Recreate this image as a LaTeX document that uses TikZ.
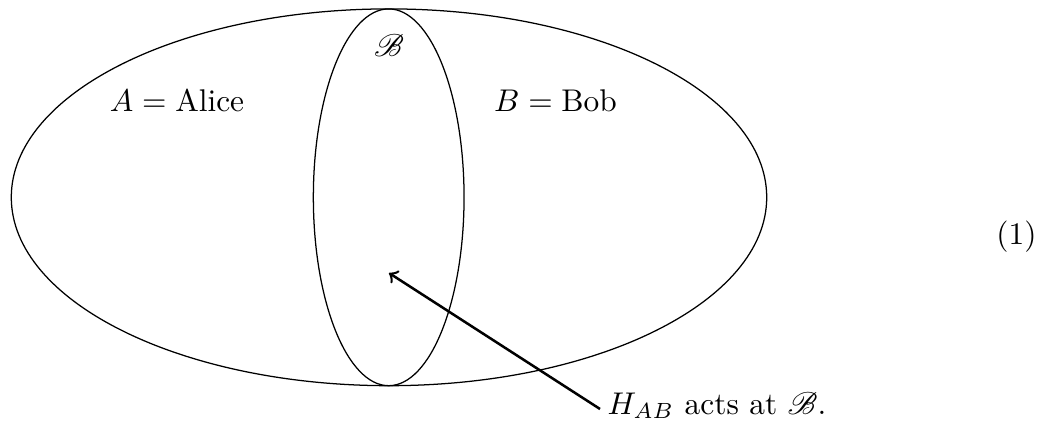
\documentclass[tikz,border=0pt]{standalone}
\usepackage{amsmath}
\usepackage{mathrsfs}
\begin{document}
\begin{tikzpicture}[x=0.3185pt,y=-0.3185pt,
  lbl/.style={inner sep=0pt,anchor=base},
  arr/.style={->,line width=0.8pt}]
\useasboundingbox (0,0) rectangle (1043,430);
\draw[line width=0.4pt] (389,197.3) ellipse [x radius=120.3pt, y radius=60pt];
\draw[line width=0.4pt] (388.7,197.3) ellipse [x radius=24pt, y radius=60pt];
\node[lbl] (alice) at (177,112) {$A=\text{Alice}$};
\node[lbl] (bob) at (555.5,112) {$B=\text{Bob}$};
\node[lbl] (scrB) at (389,57) {$\mathscr{B}$};
\node[lbl,anchor=base west] (hab) at (607,414) {$H_{AB}$ acts at $\mathscr{B}$.};
\node[lbl] (eq) at (1016.5,245) {(1)};
\coordinate (tip) at (389,273);
\draw[arr] (600,409) -- (tip);
\end{tikzpicture}
\end{document}
